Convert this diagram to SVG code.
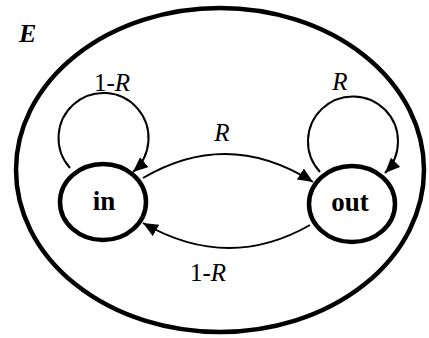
<svg xmlns="http://www.w3.org/2000/svg" width="429" height="338" viewBox="0 0 429 338">
<style>
.env{fill:none;stroke:#000;stroke-width:4.5}
.node{fill:#fff;stroke:#000;stroke-width:4.5}
.edge{fill:none;stroke:#000;stroke-width:2}
.lbl{font-family:"Liberation Serif","Times New Roman",serif;font-size:25px;fill:#000;text-anchor:middle}
.nl{font-family:"Liberation Serif","Times New Roman",serif;font-size:27px;font-weight:bold;fill:#000;text-anchor:middle}
.env-l{font-family:"Liberation Serif","Times New Roman",serif;font-size:26px;font-weight:bold;font-style:italic;fill:#000}
</style>
<defs>
<marker id="ah" markerUnits="userSpaceOnUse" markerWidth="18" markerHeight="14" refX="15" refY="6.5" orient="auto">
<path d="M0,0 L15,6.5 L0,13 z" fill="#000"/>
</marker>
</defs>
<rect width="429" height="338" fill="#fff"/>
<g id="environment">
<ellipse class="env" cx="220" cy="170" rx="204" ry="162"/>
<text class="env-l" x="19" y="42">E</text>
</g>
<g id="connectors">
<path class="edge" d="M70,168 A45,45 0 1 1 133,172" marker-end="url(#ah)"/>
<path class="edge" d="M320,172 A45,45 0 1 1 385,173" marker-end="url(#ah)"/>
<path class="edge" d="M143,178 Q228,128 313,182" marker-end="url(#ah)"/>
<path class="edge" d="M310,225 Q228,272 143,223" marker-end="url(#ah)"/>
<text class="lbl" x="112" y="91">1-<tspan font-style="italic">R</tspan></text>
<text class="lbl" x="340" y="90" font-style="italic">R</text>
<text class="lbl" x="222" y="141" font-style="italic">R</text>
<text class="lbl" x="208" y="281">1-<tspan font-style="italic">R</tspan></text>
</g>
<g id="node-in">
<ellipse class="node" cx="103" cy="202" rx="43" ry="38"/>
<text class="nl" x="104" y="210">in</text>
</g>
<g id="node-out">
<ellipse class="node" cx="352" cy="204" rx="43" ry="38"/>
<text class="nl" x="350" y="211">out</text>
</g>
</svg>
